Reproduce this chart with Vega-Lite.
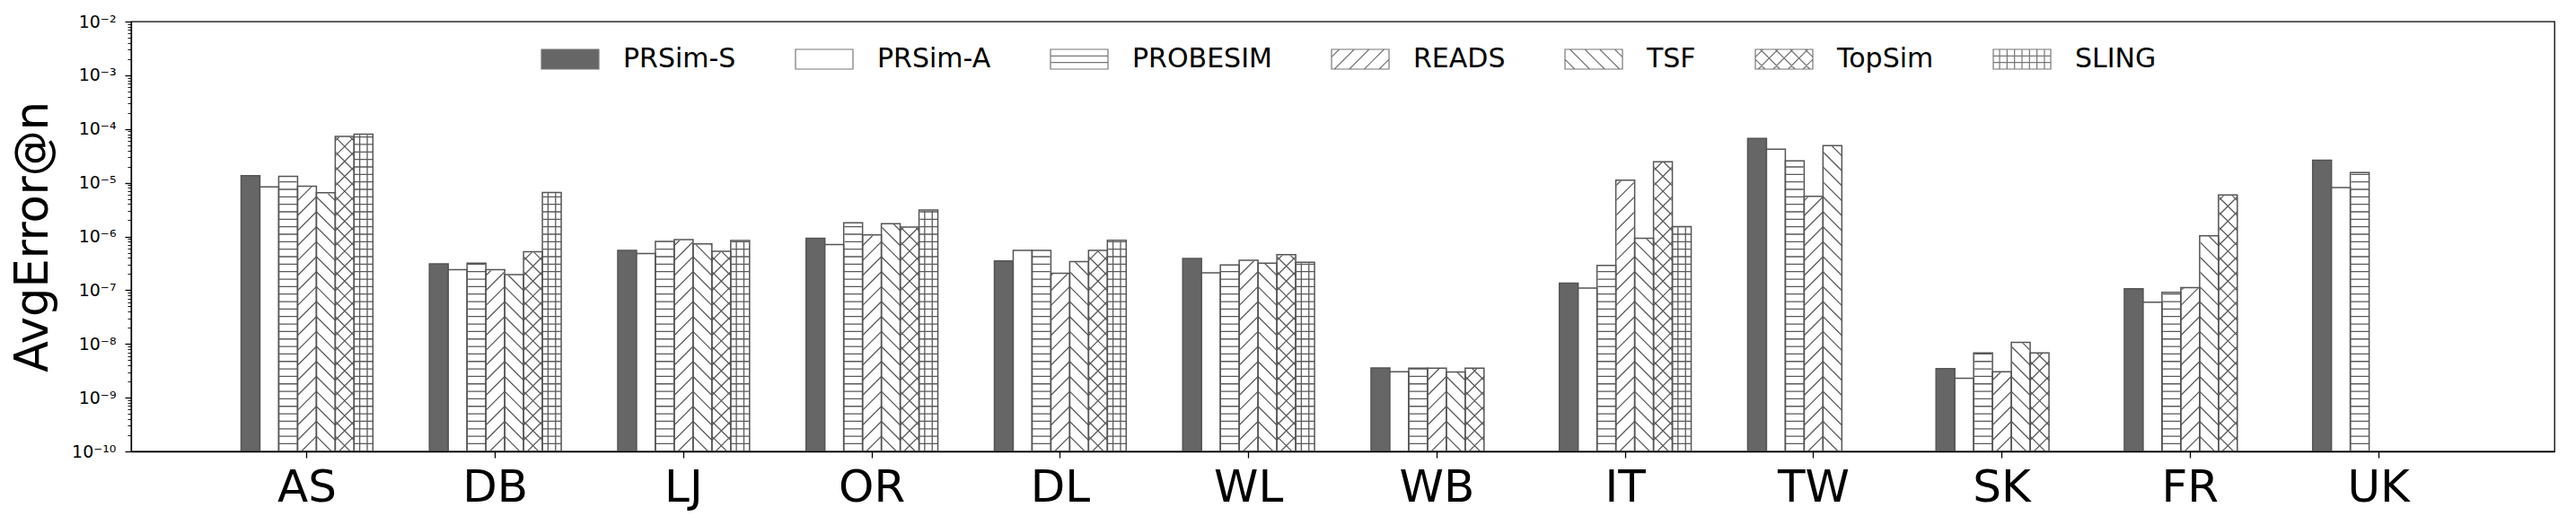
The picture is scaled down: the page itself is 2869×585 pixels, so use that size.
{
  "$schema": "https://vega.github.io/schema/vega-lite/v6.json",
  "autosize": "none",
  "width": 2699,
  "height": 479,
  "padding": {"left": 146, "top": 24, "right": 24, "bottom": 82},
  "background": "white",
  "data": {
    "values": [
      {"ds": "AS", "method": "PRSim-S", "v": 1.35e-5},
      {"ds": "AS", "method": "PRSim-A", "v": 8.4e-6},
      {"ds": "AS", "method": "PROBESIM", "v": 1.32e-5},
      {"ds": "AS", "method": "READS", "v": 8.6e-6},
      {"ds": "AS", "method": "TSF", "v": 6.5e-6},
      {"ds": "AS", "method": "TopSim", "v": 7.3e-5},
      {"ds": "AS", "method": "SLING", "v": 8.0e-5},
      {"ds": "DB", "method": "PRSim-S", "v": 3.1e-7},
      {"ds": "DB", "method": "PRSim-A", "v": 2.4e-7},
      {"ds": "DB", "method": "PROBESIM", "v": 3.2e-7},
      {"ds": "DB", "method": "READS", "v": 2.4e-7},
      {"ds": "DB", "method": "TSF", "v": 1.95e-7},
      {"ds": "DB", "method": "TopSim", "v": 5.2e-7},
      {"ds": "DB", "method": "SLING", "v": 6.6e-6},
      {"ds": "LJ", "method": "PRSim-S", "v": 5.5e-7},
      {"ds": "LJ", "method": "PRSim-A", "v": 4.8e-7},
      {"ds": "LJ", "method": "PROBESIM", "v": 8.1e-7},
      {"ds": "LJ", "method": "READS", "v": 8.7e-7},
      {"ds": "LJ", "method": "TSF", "v": 7.3e-7},
      {"ds": "LJ", "method": "TopSim", "v": 5.3e-7},
      {"ds": "LJ", "method": "SLING", "v": 8.4e-7},
      {"ds": "OR", "method": "PRSim-S", "v": 9.3e-7},
      {"ds": "OR", "method": "PRSim-A", "v": 7.1e-7},
      {"ds": "OR", "method": "PROBESIM", "v": 1.8e-6},
      {"ds": "OR", "method": "READS", "v": 1.07e-6},
      {"ds": "OR", "method": "TSF", "v": 1.73e-6},
      {"ds": "OR", "method": "TopSim", "v": 1.5e-6},
      {"ds": "OR", "method": "SLING", "v": 3.1e-6},
      {"ds": "DL", "method": "PRSim-S", "v": 3.5e-7},
      {"ds": "DL", "method": "PRSim-A", "v": 5.5e-7},
      {"ds": "DL", "method": "PROBESIM", "v": 5.5e-7},
      {"ds": "DL", "method": "READS", "v": 2.07e-7},
      {"ds": "DL", "method": "TSF", "v": 3.4e-7},
      {"ds": "DL", "method": "TopSim", "v": 5.5e-7},
      {"ds": "DL", "method": "SLING", "v": 8.5e-7},
      {"ds": "WL", "method": "PRSim-S", "v": 3.9e-7},
      {"ds": "WL", "method": "PRSim-A", "v": 2.1e-7},
      {"ds": "WL", "method": "PROBESIM", "v": 2.95e-7},
      {"ds": "WL", "method": "READS", "v": 3.6e-7},
      {"ds": "WL", "method": "TSF", "v": 3.2e-7},
      {"ds": "WL", "method": "TopSim", "v": 4.6e-7},
      {"ds": "WL", "method": "SLING", "v": 3.3e-7},
      {"ds": "WB", "method": "PRSim-S", "v": 3.57e-9},
      {"ds": "WB", "method": "PRSim-A", "v": 3.05e-9},
      {"ds": "WB", "method": "PROBESIM", "v": 3.55e-9},
      {"ds": "WB", "method": "READS", "v": 3.55e-9},
      {"ds": "WB", "method": "TSF", "v": 3.0e-9},
      {"ds": "WB", "method": "TopSim", "v": 3.55e-9},
      {"ds": "IT", "method": "PRSim-S", "v": 1.36e-7},
      {"ds": "IT", "method": "PRSim-A", "v": 1.1e-7},
      {"ds": "IT", "method": "PROBESIM", "v": 2.9e-7},
      {"ds": "IT", "method": "READS", "v": 1.12e-5},
      {"ds": "IT", "method": "TSF", "v": 9.3e-7},
      {"ds": "IT", "method": "TopSim", "v": 2.46e-5},
      {"ds": "IT", "method": "SLING", "v": 1.53e-6},
      {"ds": "TW", "method": "PRSim-S", "v": 6.7e-5},
      {"ds": "TW", "method": "PRSim-A", "v": 4.2e-5},
      {"ds": "TW", "method": "PROBESIM", "v": 2.55e-5},
      {"ds": "TW", "method": "READS", "v": 5.6e-6},
      {"ds": "TW", "method": "TSF", "v": 4.9e-5},
      {"ds": "SK", "method": "PRSim-S", "v": 3.47e-9},
      {"ds": "SK", "method": "PRSim-A", "v": 2.3e-9},
      {"ds": "SK", "method": "PROBESIM", "v": 6.8e-9},
      {"ds": "SK", "method": "READS", "v": 3.05e-9},
      {"ds": "SK", "method": "TSF", "v": 1.07e-8},
      {"ds": "SK", "method": "TopSim", "v": 6.8e-9},
      {"ds": "FR", "method": "PRSim-S", "v": 1.06e-7},
      {"ds": "FR", "method": "PRSim-A", "v": 6.0e-8},
      {"ds": "FR", "method": "PROBESIM", "v": 9.1e-8},
      {"ds": "FR", "method": "READS", "v": 1.12e-7},
      {"ds": "FR", "method": "TSF", "v": 1.03e-6},
      {"ds": "FR", "method": "TopSim", "v": 5.9e-6},
      {"ds": "UK", "method": "PRSim-S", "v": 2.62e-5},
      {"ds": "UK", "method": "PRSim-A", "v": 8.1e-6},
      {"ds": "UK", "method": "PROBESIM", "v": 1.55e-5}
    ]
  },
  "encoding": {
    "x": {
      "field": "ds", "type": "nominal", "sort": null,
      "scale": {"type": "band", "domain": ["AS","DB","LJ","OR","DL","WL","WB","IT","TW","SK","FR","UK"], "paddingInner": 0.3, "paddingOuter": 0.584},
      "axis": {"title": null, "labelAngle": 0, "labelFontSize": 50, "labelFont": "DejaVu Sans", "labelColor": "black", "labelPadding": 8, "tickSize": 7, "tickWidth": 1.3, "tickColor": "black", "domainColor": "black", "domainWidth": 1.3, "zindex": 1}
    },
    "xOffset": {
      "field": "method", "type": "nominal",
      "scale": {"domain": ["PRSim-S","PRSim-A","PROBESIM","READS","TSF","TopSim","SLING"], "paddingInner": 0, "paddingOuter": 0}
    }
  },
  "layer": [
    {
      "transform": [{"filter": "datum.method != 'PRSim-S' && datum.method != 'PRSim-A'"}],
      "mark": {"type": "point", "filled": false, "stroke": "#5a5a5a", "strokeWidth": 1.3, "opacity": 1, "size": 176400, "clip": true},
      "encoding": {
        "y": {"datum": 1.778e-7, "type": "quantitative", "scale": {"type": "log", "domain": [1e-10, 1e-2], "nice": false},
          "axis": {
            "title": "AvgError@n", "titleFontSize": 51, "titleFont": "DejaVu Sans", "titleFontWeight": "normal", "titleColor": "black",
            "titleAngle": -90, "titleX": -94, "titleY": 239.5, "titleAlign": "center", "titleBaseline": "alphabetic",
            "values": [1e-10,2e-10,3e-10,4e-10,5e-10,6e-10,7e-10,8e-10,9e-10,1e-9,2e-9,3e-9,4e-9,5e-9,6e-9,7e-9,8e-9,9e-9,1e-8,2e-8,3e-8,4e-8,5e-8,6e-8,7e-8,8e-8,9e-8,1e-7,2e-7,3e-7,4e-7,5e-7,6e-7,7e-7,8e-7,9e-7,1e-6,2e-6,3e-6,4e-6,5e-6,6e-6,7e-6,8e-6,9e-6,1e-5,2e-5,3e-5,4e-5,5e-5,6e-5,7e-5,8e-5,9e-5,1e-4,2e-4,3e-4,4e-4,5e-4,6e-4,7e-4,8e-4,9e-4,1e-3,2e-3,3e-3,4e-3,5e-3,6e-3,7e-3,8e-3,9e-3,1e-2],
            "labelExpr": "abs(log(datum.value)/LN10 - round(log(datum.value)/LN10)) > 0.01 ? '' : '10⁻' + (round(-log(datum.value)/LN10) == 10 ? '¹⁰' : ['⁰','¹','²','³','⁴','⁵','⁶','⁷','⁸','⁹'][round(-log(datum.value)/LN10)])",
            "labelFontSize": 19, "labelFont": "DejaVu Sans", "labelColor": "black", "labelPadding": 10,
            "labelOverlap": false, "labelFlush": false, "labelBaseline": "middle",
            "tickSize": {"condition": {"test": "abs(log(datum.value)/LN10 - round(log(datum.value)/LN10)) < 0.01", "value": 7}, "value": 4},
            "tickWidth": {"condition": {"test": "abs(log(datum.value)/LN10 - round(log(datum.value)/LN10)) < 0.01", "value": 1.3}, "value": 0.9},
            "tickColor": "black", "domainColor": "black", "domainWidth": 1.3, "grid": false, "zindex": 1
          }
        },
        "shape": {
          "field": "method", "type": "nominal", "legend": null,
          "scale": {
            "domain": ["PROBESIM","READS","TSF","TopSim","SLING"],
            "range": [
              "M-0.05,-0.98 h0.1 m-0.1,0.0397 h0.1 m-0.1,0.0397 h0.1 m-0.1,0.0397 h0.1 m-0.1,0.0397 h0.1 m-0.1,0.0397 h0.1 m-0.1,0.0397 h0.1 m-0.1,0.0397 h0.1 m-0.1,0.0397 h0.1 m-0.1,0.0397 h0.1 m-0.1,0.0397 h0.1 m-0.1,0.0397 h0.1 m-0.1,0.0397 h0.1 m-0.1,0.0397 h0.1 m-0.1,0.0397 h0.1 m-0.1,0.0397 h0.1 m-0.1,0.0397 h0.1 m-0.1,0.0397 h0.1 m-0.1,0.0397 h0.1 m-0.1,0.0397 h0.1 m-0.1,0.0397 h0.1 m-0.1,0.0397 h0.1 m-0.1,0.0397 h0.1 m-0.1,0.0397 h0.1 m-0.1,0.0397 h0.1 m-0.1,0.0397 h0.1 m-0.1,0.0397 h0.1 m-0.1,0.0397 h0.1 m-0.1,0.0397 h0.1 m-0.1,0.0397 h0.1 m-0.1,0.0397 h0.1 m-0.1,0.0397 h0.1 m-0.1,0.0397 h0.1 m-0.1,0.0397 h0.1 m-0.1,0.0397 h0.1 m-0.1,0.0397 h0.1 m-0.1,0.0397 h0.1 m-0.1,0.0397 h0.1 m-0.1,0.0397 h0.1 m-0.1,0.0397 h0.1 m-0.1,0.0397 h0.1 m-0.1,0.0397 h0.1 m-0.1,0.0397 h0.1 m-0.1,0.0397 h0.1 m-0.1,0.0397 h0.1 m-0.1,0.0397 h0.1 m-0.1,0.0397 h0.1 m-0.1,0.0397 h0.1 m-0.1,0.0397 h0.1 m-0.1,0.0397 h0.1 m-0.1,0.0397 h0.1",
              "M-0.05,-0.88 l0.1,-0.1 m-0.1,0.1794 l0.1,-0.1 m-0.1,0.1794 l0.1,-0.1 m-0.1,0.1794 l0.1,-0.1 m-0.1,0.1794 l0.1,-0.1 m-0.1,0.1794 l0.1,-0.1 m-0.1,0.1794 l0.1,-0.1 m-0.1,0.1794 l0.1,-0.1 m-0.1,0.1794 l0.1,-0.1 m-0.1,0.1794 l0.1,-0.1 m-0.1,0.1794 l0.1,-0.1 m-0.1,0.1794 l0.1,-0.1 m-0.1,0.1794 l0.1,-0.1 m-0.1,0.1794 l0.1,-0.1 m-0.1,0.1794 l0.1,-0.1 m-0.1,0.1794 l0.1,-0.1 m-0.1,0.1794 l0.1,-0.1 m-0.1,0.1794 l0.1,-0.1 m-0.1,0.1794 l0.1,-0.1 m-0.1,0.1794 l0.1,-0.1 m-0.1,0.1794 l0.1,-0.1 m-0.1,0.1794 l0.1,-0.1 m-0.1,0.1794 l0.1,-0.1 m-0.1,0.1794 l0.1,-0.1 m-0.1,0.1794 l0.1,-0.1 m-0.1,0.1794 l0.1,-0.1 m-0.1,0.1794 l0.1,-0.1",
              "M-0.05,-0.98 l0.1,0.1 m-0.1,-0.0206 l0.1,0.1 m-0.1,-0.0206 l0.1,0.1 m-0.1,-0.0206 l0.1,0.1 m-0.1,-0.0206 l0.1,0.1 m-0.1,-0.0206 l0.1,0.1 m-0.1,-0.0206 l0.1,0.1 m-0.1,-0.0206 l0.1,0.1 m-0.1,-0.0206 l0.1,0.1 m-0.1,-0.0206 l0.1,0.1 m-0.1,-0.0206 l0.1,0.1 m-0.1,-0.0206 l0.1,0.1 m-0.1,-0.0206 l0.1,0.1 m-0.1,-0.0206 l0.1,0.1 m-0.1,-0.0206 l0.1,0.1 m-0.1,-0.0206 l0.1,0.1 m-0.1,-0.0206 l0.1,0.1 m-0.1,-0.0206 l0.1,0.1 m-0.1,-0.0206 l0.1,0.1 m-0.1,-0.0206 l0.1,0.1 m-0.1,-0.0206 l0.1,0.1 m-0.1,-0.0206 l0.1,0.1 m-0.1,-0.0206 l0.1,0.1 m-0.1,-0.0206 l0.1,0.1 m-0.1,-0.0206 l0.1,0.1 m-0.1,-0.0206 l0.1,0.1 m-0.1,-0.0206 l0.1,0.1",
              "M-0.05,-0.88 l0.1,-0.1 m-0.1,0.1794 l0.1,-0.1 m-0.1,0.1794 l0.1,-0.1 m-0.1,0.1794 l0.1,-0.1 m-0.1,0.1794 l0.1,-0.1 m-0.1,0.1794 l0.1,-0.1 m-0.1,0.1794 l0.1,-0.1 m-0.1,0.1794 l0.1,-0.1 m-0.1,0.1794 l0.1,-0.1 m-0.1,0.1794 l0.1,-0.1 m-0.1,0.1794 l0.1,-0.1 m-0.1,0.1794 l0.1,-0.1 m-0.1,0.1794 l0.1,-0.1 m-0.1,0.1794 l0.1,-0.1 m-0.1,0.1794 l0.1,-0.1 m-0.1,0.1794 l0.1,-0.1 m-0.1,0.1794 l0.1,-0.1 m-0.1,0.1794 l0.1,-0.1 m-0.1,0.1794 l0.1,-0.1 m-0.1,0.1794 l0.1,-0.1 m-0.1,0.1794 l0.1,-0.1 m-0.1,0.1794 l0.1,-0.1 m-0.1,0.1794 l0.1,-0.1 m-0.1,0.1794 l0.1,-0.1 m-0.1,0.1794 l0.1,-0.1 m-0.1,0.1794 l0.1,-0.1 m-0.1,0.1794 l0.1,-0.1 M-0.05,-0.98 l0.1,0.1 m-0.1,-0.0206 l0.1,0.1 m-0.1,-0.0206 l0.1,0.1 m-0.1,-0.0206 l0.1,0.1 m-0.1,-0.0206 l0.1,0.1 m-0.1,-0.0206 l0.1,0.1 m-0.1,-0.0206 l0.1,0.1 m-0.1,-0.0206 l0.1,0.1 m-0.1,-0.0206 l0.1,0.1 m-0.1,-0.0206 l0.1,0.1 m-0.1,-0.0206 l0.1,0.1 m-0.1,-0.0206 l0.1,0.1 m-0.1,-0.0206 l0.1,0.1 m-0.1,-0.0206 l0.1,0.1 m-0.1,-0.0206 l0.1,0.1 m-0.1,-0.0206 l0.1,0.1 m-0.1,-0.0206 l0.1,0.1 m-0.1,-0.0206 l0.1,0.1 m-0.1,-0.0206 l0.1,0.1 m-0.1,-0.0206 l0.1,0.1 m-0.1,-0.0206 l0.1,0.1 m-0.1,-0.0206 l0.1,0.1 m-0.1,-0.0206 l0.1,0.1 m-0.1,-0.0206 l0.1,0.1 m-0.1,-0.0206 l0.1,0.1 m-0.1,-0.0206 l0.1,0.1 m-0.1,-0.0206 l0.1,0.1",
              "M-0.05,-0.98 h0.1 m-0.1,0.0397 h0.1 m-0.1,0.0397 h0.1 m-0.1,0.0397 h0.1 m-0.1,0.0397 h0.1 m-0.1,0.0397 h0.1 m-0.1,0.0397 h0.1 m-0.1,0.0397 h0.1 m-0.1,0.0397 h0.1 m-0.1,0.0397 h0.1 m-0.1,0.0397 h0.1 m-0.1,0.0397 h0.1 m-0.1,0.0397 h0.1 m-0.1,0.0397 h0.1 m-0.1,0.0397 h0.1 m-0.1,0.0397 h0.1 m-0.1,0.0397 h0.1 m-0.1,0.0397 h0.1 m-0.1,0.0397 h0.1 m-0.1,0.0397 h0.1 m-0.1,0.0397 h0.1 m-0.1,0.0397 h0.1 m-0.1,0.0397 h0.1 m-0.1,0.0397 h0.1 m-0.1,0.0397 h0.1 m-0.1,0.0397 h0.1 m-0.1,0.0397 h0.1 m-0.1,0.0397 h0.1 m-0.1,0.0397 h0.1 m-0.1,0.0397 h0.1 m-0.1,0.0397 h0.1 m-0.1,0.0397 h0.1 m-0.1,0.0397 h0.1 m-0.1,0.0397 h0.1 m-0.1,0.0397 h0.1 m-0.1,0.0397 h0.1 m-0.1,0.0397 h0.1 m-0.1,0.0397 h0.1 m-0.1,0.0397 h0.1 m-0.1,0.0397 h0.1 m-0.1,0.0397 h0.1 m-0.1,0.0397 h0.1 m-0.1,0.0397 h0.1 m-0.1,0.0397 h0.1 m-0.1,0.0397 h0.1 m-0.1,0.0397 h0.1 m-0.1,0.0397 h0.1 m-0.1,0.0397 h0.1 m-0.1,0.0397 h0.1 m-0.1,0.0397 h0.1 M-0.02,-0.98 V1 M0.02,-0.98 V1"
            ]
          }
        }
      }
    },
    {
      "mark": {"type": "bar", "fill": "white", "stroke": "white", "strokeWidth": 1.6},
      "encoding": {
        "y": {"field": "v", "type": "quantitative", "scale": {"type": "log", "domain": [1e-10, 1e-2], "nice": false},
          "axis": {
            "title": "AvgError@n", "titleFontSize": 51, "titleFont": "DejaVu Sans", "titleFontWeight": "normal", "titleColor": "black",
            "titleAngle": -90, "titleX": -94, "titleY": 239.5, "titleAlign": "center", "titleBaseline": "alphabetic",
            "values": [1e-10,2e-10,3e-10,4e-10,5e-10,6e-10,7e-10,8e-10,9e-10,1e-9,2e-9,3e-9,4e-9,5e-9,6e-9,7e-9,8e-9,9e-9,1e-8,2e-8,3e-8,4e-8,5e-8,6e-8,7e-8,8e-8,9e-8,1e-7,2e-7,3e-7,4e-7,5e-7,6e-7,7e-7,8e-7,9e-7,1e-6,2e-6,3e-6,4e-6,5e-6,6e-6,7e-6,8e-6,9e-6,1e-5,2e-5,3e-5,4e-5,5e-5,6e-5,7e-5,8e-5,9e-5,1e-4,2e-4,3e-4,4e-4,5e-4,6e-4,7e-4,8e-4,9e-4,1e-3,2e-3,3e-3,4e-3,5e-3,6e-3,7e-3,8e-3,9e-3,1e-2],
            "labelExpr": "abs(log(datum.value)/LN10 - round(log(datum.value)/LN10)) > 0.01 ? '' : '10⁻' + (round(-log(datum.value)/LN10) == 10 ? '¹⁰' : ['⁰','¹','²','³','⁴','⁵','⁶','⁷','⁸','⁹'][round(-log(datum.value)/LN10)])",
            "labelFontSize": 19, "labelFont": "DejaVu Sans", "labelColor": "black", "labelPadding": 10,
            "labelOverlap": false, "labelFlush": false, "labelBaseline": "middle",
            "tickSize": {"condition": {"test": "abs(log(datum.value)/LN10 - round(log(datum.value)/LN10)) < 0.01", "value": 7}, "value": 4},
            "tickWidth": {"condition": {"test": "abs(log(datum.value)/LN10 - round(log(datum.value)/LN10)) < 0.01", "value": 1.3}, "value": 0.9},
            "tickColor": "black", "domainColor": "black", "domainWidth": 1.3, "grid": false, "zindex": 1
          }
        },
        "y2": {"datum": 6.31e-4}
      }
    },
    {
      "mark": {"type": "bar", "stroke": "#555555", "strokeWidth": 1.5},
      "encoding": {
        "y": {
          "field": "v", "type": "quantitative",
          "scale": {"type": "log", "domain": [1e-10, 1e-2], "nice": false},
          "axis": {
            "title": "AvgError@n", "titleFontSize": 51, "titleFont": "DejaVu Sans", "titleFontWeight": "normal", "titleColor": "black",
            "titleAngle": -90, "titleX": -94, "titleY": 239.5, "titleAlign": "center", "titleBaseline": "alphabetic",
            "values": [1e-10,2e-10,3e-10,4e-10,5e-10,6e-10,7e-10,8e-10,9e-10,1e-9,2e-9,3e-9,4e-9,5e-9,6e-9,7e-9,8e-9,9e-9,1e-8,2e-8,3e-8,4e-8,5e-8,6e-8,7e-8,8e-8,9e-8,1e-7,2e-7,3e-7,4e-7,5e-7,6e-7,7e-7,8e-7,9e-7,1e-6,2e-6,3e-6,4e-6,5e-6,6e-6,7e-6,8e-6,9e-6,1e-5,2e-5,3e-5,4e-5,5e-5,6e-5,7e-5,8e-5,9e-5,1e-4,2e-4,3e-4,4e-4,5e-4,6e-4,7e-4,8e-4,9e-4,1e-3,2e-3,3e-3,4e-3,5e-3,6e-3,7e-3,8e-3,9e-3,1e-2],
            "labelExpr": "abs(log(datum.value)/LN10 - round(log(datum.value)/LN10)) > 0.01 ? '' : '10⁻' + (round(-log(datum.value)/LN10) == 10 ? '¹⁰' : ['⁰','¹','²','³','⁴','⁵','⁶','⁷','⁸','⁹'][round(-log(datum.value)/LN10)])",
            "labelFontSize": 19, "labelFont": "DejaVu Sans", "labelColor": "black", "labelPadding": 10,
            "labelOverlap": false, "labelFlush": false, "labelBaseline": "middle",
            "tickSize": {"condition": {"test": "abs(log(datum.value)/LN10 - round(log(datum.value)/LN10)) < 0.01", "value": 7}, "value": 4},
            "tickWidth": {"condition": {"test": "abs(log(datum.value)/LN10 - round(log(datum.value)/LN10)) < 0.01", "value": 1.3}, "value": 0.9},
            "tickColor": "black", "domainColor": "black", "domainWidth": 1.3, "grid": false, "zindex": 1
          }
        },
        "y2": {"datum": 1e-10},
        "fill": {
          "field": "method", "type": "nominal",
          "scale": {"domain": ["PRSim-S","PRSim-A","PROBESIM","READS","TSF","TopSim","SLING"], "range": ["#666666","#ffffff","transparent","transparent","transparent","transparent","transparent"]},
          "legend": {
            "title": null, "orient": "none", "legendX": 456, "legendY": 9, "direction": "horizontal", "columns": 7,
            "symbolType": "M-1,-0.344H1V0.344H-1Z", "symbolSize": 4096, "symbolStrokeColor": "#777777", "symbolStrokeWidth": 1.2,
            "labelFontSize": 30, "labelFont": "DejaVu Sans", "labelColor": "black", "labelOffset": 26, "labelLimit": 0,
            "columnPadding": 63, "rowPadding": 0, "padding": 0,
            "encode": {
              "symbols": {
                "update": {
                  "stroke": {"value": "#777777"},
                  "strokeWidth": {"value": 1.2},
                  "shape": {"signal": "datum.value === 'PROBESIM' ? 'M-1,-0.344H1V0.344H-1ZM-1,-0.115H1M-1,0.115H1' : datum.value === 'READS' ? 'M-1,-0.344H1V0.344H-1ZM-1,-0.076L-0.732,-0.344M-0.9,0.344L-0.212,-0.344M-0.38,0.344L0.308,-0.344M0.14,0.344L0.828,-0.344M0.66,0.344L1,0.004' : datum.value === 'TSF' ? 'M-1,-0.344H1V0.344H-1ZM1,-0.076L0.732,-0.344M0.9,0.344L0.212,-0.344M0.38,0.344L-0.308,-0.344M-0.14,0.344L-0.828,-0.344M-0.66,0.344L-1,0.004' : datum.value === 'TopSim' ? 'M-1,-0.344H1V0.344H-1ZM-1,-0.076L-0.732,-0.344M-0.9,0.344L-0.212,-0.344M-0.38,0.344L0.308,-0.344M0.14,0.344L0.828,-0.344M0.66,0.344L1,0.004M1,-0.076L0.732,-0.344M0.9,0.344L0.212,-0.344M0.38,0.344L-0.308,-0.344M-0.14,0.344L-0.828,-0.344M-0.66,0.344L-1,0.004' : datum.value === 'SLING' ? 'M-1,-0.344H1V0.344H-1ZM-1,-0.115H1M-1,0.115H1M-0.78,-0.344V0.344M-0.52,-0.344V0.344M-0.26,-0.344V0.344M0,-0.344V0.344M0.26,-0.344V0.344M0.52,-0.344V0.344M0.78,-0.344V0.344' : 'M-1,-0.344H1V0.344H-1Z'"}
                }
              }
            }
          }
        }
      }
    }
  ],
  "config": {
    "view": {"stroke": "black", "strokeWidth": 1.3},
    "font": "DejaVu Sans"
  }
}
